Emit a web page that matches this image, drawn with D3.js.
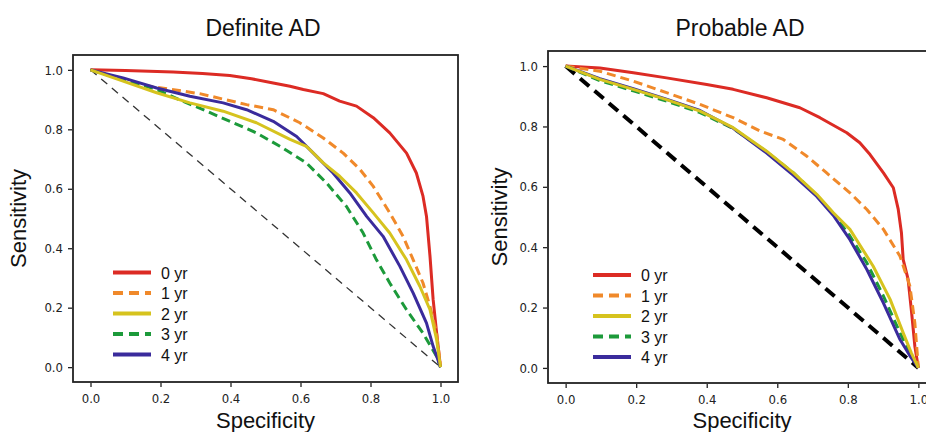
<!DOCTYPE html>
<html>
<head>
<meta charset="utf-8">
<script src="https://cdn.jsdelivr.net/npm/d3@7"></script>
<style>
  body { margin: 0; background: #fff; }
  .tick text { font-family: "DejaVu Sans Condensed", "DejaVu Sans", sans-serif; font-size: 13px; fill: #222; }
  .tick line { stroke: #222; stroke-width: 1.3; }
  .domain { display: none; }
</style>
</head>
<body>
<script>
// tick values and legend labels
var ticks = [0.0, 0.2, 0.4, 0.6, 0.8, 1.0];
var legendLabels = ["0 yr", "1 yr", "2 yr", "3 yr", "4 yr"];
var colors = ["#dc2b24", "#f0892a", "#d6c31e", "#1c9a3a", "#3a2b9c"];
var dashed = [false, true, false, true, false];

// [specificity, sensitivity] - Definite AD
var definite0 = [[0,1],[0.1,0.998],[0.236,0.993],[0.32,0.988],[0.398,0.981],[0.46,0.97],[0.522,0.956],[0.57,0.945],[0.608,0.934],[0.665,0.92],[0.712,0.895],[0.76,0.878],[0.808,0.839],[0.855,0.788],[0.903,0.72],[0.931,0.653],[0.95,0.575],[0.96,0.507],[0.97,0.373],[0.979,0.227],[0.989,0.114],[1,0]];
var definite1 = [[0,1],[0.141,0.95],[0.312,0.92],[0.446,0.883],[0.522,0.866],[0.598,0.822],[0.665,0.771],[0.722,0.72],[0.77,0.665],[0.808,0.608],[0.855,0.519],[0.893,0.44],[0.922,0.361],[0.95,0.283],[0.97,0.204],[0.989,0.114],[1,0]];
var definite2 = [[0,1],[0.093,0.962],[0.189,0.923],[0.284,0.889],[0.379,0.861],[0.474,0.822],[0.57,0.766],[0.617,0.743],[0.665,0.687],[0.712,0.642],[0.76,0.586],[0.808,0.519],[0.855,0.451],[0.903,0.361],[0.941,0.272],[0.97,0.193],[0.989,0.092],[1,0]];
var definite3 = [[0,1],[0.093,0.967],[0.189,0.934],[0.265,0.894],[0.332,0.861],[0.408,0.822],[0.474,0.788],[0.541,0.743],[0.617,0.687],[0.674,0.62],[0.731,0.541],[0.779,0.451],[0.817,0.361],[0.855,0.283],[0.903,0.193],[0.95,0.114],[0.989,0.036],[1,0]];
var definite4 = [[0,1],[0.093,0.973],[0.189,0.939],[0.284,0.911],[0.379,0.889],[0.446,0.866],[0.522,0.827],[0.589,0.776],[0.646,0.709],[0.693,0.653],[0.741,0.586],[0.789,0.507],[0.836,0.44],[0.884,0.339],[0.922,0.249],[0.96,0.148],[0.979,0.07],[1,0]];

// Probable AD
var probable0 = [[0,1],[0.097,0.994],[0.192,0.978],[0.286,0.961],[0.4,0.939],[0.475,0.923],[0.57,0.895],[0.664,0.862],[0.721,0.829],[0.797,0.779],[0.834,0.746],[0.863,0.707],[0.901,0.646],[0.929,0.597],[0.943,0.525],[0.952,0.448],[0.957,0.359],[0.971,0.293],[0.981,0.182],[0.99,0.072],[1,0]];
var probable1 = [[0,1],[0.097,0.983],[0.192,0.95],[0.286,0.912],[0.381,0.873],[0.475,0.829],[0.551,0.785],[0.617,0.757],[0.683,0.702],[0.74,0.646],[0.806,0.58],[0.854,0.525],[0.901,0.459],[0.948,0.37],[0.976,0.271],[0.99,0.149],[1,0]];
var probable2 = [[0,1],[0.097,0.956],[0.192,0.923],[0.286,0.889],[0.381,0.851],[0.475,0.796],[0.57,0.718],[0.646,0.646],[0.712,0.575],[0.759,0.514],[0.806,0.459],[0.872,0.337],[0.92,0.227],[0.957,0.116],[0.98,0.05],[1,0]];
var probable3 = [[0,1],[0.097,0.952],[0.192,0.918],[0.286,0.884],[0.381,0.846],[0.475,0.793],[0.57,0.716],[0.646,0.646],[0.712,0.572],[0.759,0.51],[0.806,0.437],[0.854,0.348],[0.901,0.238],[0.948,0.116],[0.976,0.05],[1,0]];
var probable4 = [[0,1],[0.097,0.958],[0.192,0.925],[0.286,0.89],[0.381,0.853],[0.475,0.794],[0.57,0.712],[0.646,0.638],[0.712,0.568],[0.759,0.505],[0.806,0.425],[0.854,0.326],[0.901,0.215],[0.948,0.094],[0.976,0.04],[1,0]];

var svg = d3.select("body").append("svg")
    .attr("width", 926)
    .attr("height", 432);

function drawPanel(p) {
  var x = d3.scaleLinear().domain([-0.05, 1.05]).range([p.left, p.right]);
  var y = d3.scaleLinear().domain([-0.05, 1.05]).range([p.bottom, p.top]);

  var g = svg.append("g");

  // chance diagonal
  g.append("line")
      .attr("x1", x(0)).attr("y1", y(1))
      .attr("x2", x(1)).attr("y2", y(0))
      .attr("stroke", p.diagColor)
      .attr("stroke-width", p.diagWidth)
      .attr("stroke-dasharray", p.diagDash);

  var line = d3.line()
      .x(function(d) { return x(d[0]); })
      .y(function(d) { return y(d[1]); });

  // draw order: red, orange, green, blue, yellow
  [0, 1, 3, 4, 2].forEach(function(i) {
    g.append("path")
        .datum(p.series[i])
        .attr("fill", "none")
        .attr("stroke", colors[i])
        .attr("stroke-width", 3)
        .attr("stroke-linejoin", "round")
        .attr("stroke-dasharray", dashed[i] ? "9,5" : null)
        .attr("d", line);
  });

  // frame
  g.append("rect")
      .attr("x", p.left).attr("y", p.top)
      .attr("width", p.right - p.left)
      .attr("height", p.bottom - p.top)
      .attr("fill", "none")
      .attr("stroke", "#222")
      .attr("stroke-width", 1.8);

  g.append("g")
      .attr("transform", "translate(0," + (p.bottom + 1) + ")")
      .call(d3.axisBottom(x).tickValues(ticks).tickFormat(d3.format(".1f")).tickSize(4).tickPadding(7));

  g.append("g")
      .attr("transform", "translate(" + (p.left - 1) + ",0)")
      .call(d3.axisLeft(y).tickValues(ticks).tickFormat(d3.format(".1f")).tickSize(4).tickPadding(5));

  // titles
  g.append("text")
      .attr("x", p.titleX).attr("y", 36)
      .attr("text-anchor", "middle")
      .style("font-family", "Liberation Sans, Arial, sans-serif")
      .style("font-size", "23px")
      .attr("fill", "#111")
      .text(p.title);

  g.append("text")
      .attr("x", x(0.5)).attr("y", 428)
      .attr("text-anchor", "middle")
      .style("font-family", "Liberation Sans, Arial, sans-serif")
      .style("font-size", "22px")
      .attr("fill", "#111")
      .text("Specificity");

  g.append("text")
      .attr("transform", "translate(" + p.ylabelX + "," + y(0.5) + ") rotate(-90)")
      .attr("text-anchor", "middle")
      .style("font-family", "Liberation Sans, Arial, sans-serif")
      .style("font-size", "22px")
      .attr("fill", "#111")
      .text("Sensitivity");

  // legend
  var leg = g.append("g").attr("transform", "translate(" + p.legX + "," + p.legY + ")");
  legendLabels.forEach(function(lbl, i) {
    var row = leg.append("g").attr("transform", "translate(0," + (i * 20.5) + ")");
    row.append("line")
        .attr("x1", 0).attr("x2", 38)
        .attr("stroke", colors[i])
        .attr("stroke-width", 4)
        .attr("stroke-dasharray", dashed[i] ? "10,6" : null);
    row.append("text")
        .attr("x", 48).attr("y", 6)
        .style("font-family", "Liberation Sans, Arial, sans-serif")
        .style("font-size", "16px")
        .attr("fill", "#111")
        .text(lbl);
  });
}

drawPanel({
  left: 73, right: 458, top: 55, bottom: 382,
  title: "Definite AD", titleX: 263, ylabelX: 26,
  diagColor: "#333", diagWidth: 1.3, diagDash: "8,6",
  legX: 113, legY: 272.5,
  series: [definite0, definite1, definite2, definite3, definite4]
});

drawPanel({
  left: 548, right: 936, top: 51, bottom: 383,
  title: "Probable AD", titleX: 740, ylabelX: 507,
  diagColor: "#000", diagWidth: 4, diagDash: "12,7",
  legX: 593, legY: 275,
  series: [probable0, probable1, probable2, probable3, probable4]
});
</script>
</body>
</html>
